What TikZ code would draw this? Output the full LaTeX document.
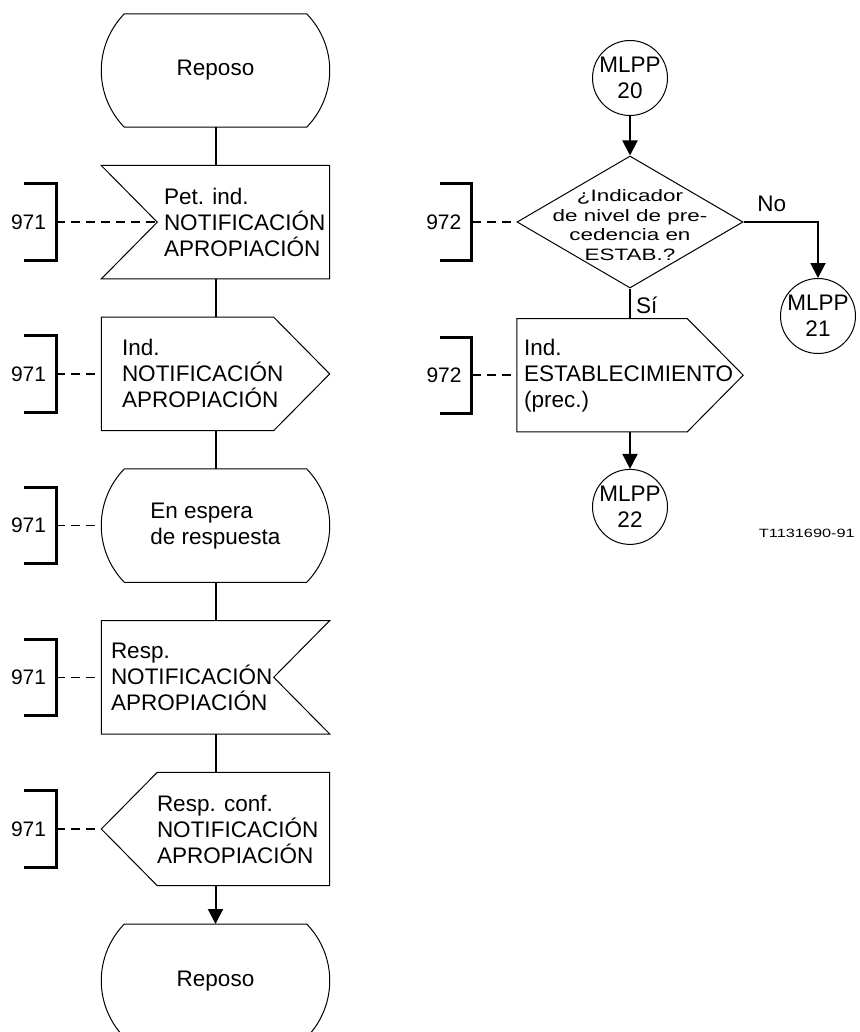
\documentclass[tikz,border=0pt]{standalone}
\usepackage{fontspec}
\setmainfont{Liberation Sans}
\newfontfamily\squeezed{Liberation Sans}[FakeStretch=1.36]
\usetikzlibrary{positioning, shapes.geometric, arrows.meta}

\begin{document}
\begin{tikzpicture}[
		x=1pt, y=1pt,
		>={Triangle[length=15pt, width=15pt]},
		txt/.style={font=\fontsize{22.5pt}{26pt}\selectfont, align=left, inner sep=0pt},
		outline/.style={line width=1pt, line join=miter},
		flow/.style={line width=2pt},
		remline/.style={line width=1.5pt, dash pattern=on 9pt off 6pt},
		sdlbox/.style={minimum width=228pt, minimum height=113pt, inner sep=0pt},
		statebox/.style={sdlbox,
			append after command={\pgfextra{
				\draw[outline] ([xshift=23pt]\tikzlastnode.north west) -- ([xshift=-23pt]\tikzlastnode.north east)
				to[bend left=44] ([xshift=-23pt]\tikzlastnode.south east) -- ([xshift=23pt]\tikzlastnode.south west)
				to[bend left=44] ([xshift=23pt]\tikzlastnode.north west) -- cycle;}}},
		inbox/.style={sdlbox,
			append after command={\pgfextra{
				\draw[outline] (\tikzlastnode.north west) -- (\tikzlastnode.north east) -- (\tikzlastnode.south east)
				-- (\tikzlastnode.south west) -- ([xshift=56pt]\tikzlastnode.west) -- cycle;}}},
		inboxr/.style={sdlbox,
			append after command={\pgfextra{
				\draw[outline] (\tikzlastnode.north west) -- (\tikzlastnode.north east) -- ([xshift=-56pt]\tikzlastnode.east)
				-- (\tikzlastnode.south east) -- (\tikzlastnode.south west) -- cycle;}}},
		outbox/.style={sdlbox,
			append after command={\pgfextra{
				\draw[outline] (\tikzlastnode.north west) -- ([xshift=-56pt]\tikzlastnode.north east) -- (\tikzlastnode.east)
				-- ([xshift=-56pt]\tikzlastnode.south east) -- (\tikzlastnode.south west) -- cycle;}}},
		outboxl/.style={sdlbox,
			append after command={\pgfextra{
				\draw[outline] ([xshift=56pt]\tikzlastnode.north west) -- (\tikzlastnode.north east) -- (\tikzlastnode.south east)
				-- ([xshift=56pt]\tikzlastnode.south west) -- (\tikzlastnode.west) -- cycle;}}},
		decision/.style={diamond, draw, outline, minimum width=226pt, minimum height=132pt, inner sep=0pt},
		conn/.style={circle, draw, outline, minimum size=75pt, inner sep=0pt},
		remark/.style={txt, font=\fontsize{21pt}{24pt}\selectfont, minimum height=76pt, inner xsep=10pt,
			append after command={\pgfextra{
				\draw[line width=3pt, line join=miter] ([xshift=-32pt]\tikzlastnode.north east) -- (\tikzlastnode.north east)
				-- (\tikzlastnode.south east) -- ([xshift=-32pt]\tikzlastnode.south east);}}},
		]
		\useasboundingbox (0,0) rectangle (859,-1032);
		
		% Left column: notification sequence
		\node[statebox, label={[txt]center:Reposo}] (st1) at (215.5,-70.5) {};
		\node[inbox, below=38.3pt of st1, label={[txt, anchor=west, xshift=62.5pt]west:{Pet. ind.\\NOTIFICACIÓN\\APROPIACIÓN}}] (inp1) {};
		\node[outbox, below=38.3pt of inp1, label={[txt, anchor=west, xshift=20.5pt]west:{Ind.\\NOTIFICACIÓN\\APROPIACIÓN}}] (out1) {};
		\node[statebox, below=38.3pt of out1, label={[txt]center:{En espera\\de respuesta}}] (st2) {};
		\node[inboxr, below=38.3pt of st2, label={[txt, anchor=west, xshift=9.5pt]west:{Resp.\\NOTIFICACIÓN\\APROPIACIÓN}}] (inp2) {};
		\node[outboxl, below=38.3pt of inp2, label={[txt, anchor=west, xshift=55.5pt]west:{Resp. conf.\\NOTIFICACIÓN\\APROPIACIÓN}}] (out2) {};
		\node[statebox, below=38.3pt of out2, label={[txt]center:Reposo}] (st3) {};
		
		% Remarks on the left
		\node[remark, left=45pt of inp1] (n1) {971};
		\node[remark, left=45pt of out1] (n2) {971};
		\node[remark, left=45pt of st2] (n3) {971};
		\node[remark, left=45pt of inp2] (n4) {971};
		\node[remark, left=45pt of out2] (n5) {971};
		
		% Right column: precedence check
		\node[conn, label={[txt, align=center]center:{MLPP\\20}}] (c20) at (630,-78) {};
		\node[decision, below=39.5pt of c20, label={[txt, align=center, yshift=-3pt, font=\squeezed\fontsize{16.5pt}{19.5pt}\selectfont]center:{¿Indicador\\de nivel de pre-\\cedencia en\\ESTAB.?}}] (dec) {};
		\node[outbox, minimum width=226pt, below=30pt of dec, label={[txt, anchor=west, xshift=7pt]west:{Ind.\\ESTABLECIMIENTO\\(prec.)}}] (out3) {};
		\node[conn, below=37pt of out3, label={[txt, align=center]center:{MLPP\\22}}] (c22) {};
		\node[conn, label={[txt, align=center]center:{MLPP\\21}}] (c21) at (818,-316) {};
		
		\node[remark, left=45pt of dec] (n6) {972};
		\node[remark, left=45pt of out3] (n7) {972};
		
		\node[txt, font=\squeezed\fontsize{12pt}{14pt}\selectfont, anchor=base east] (tag) at (855,-537) {T1131690-91};
		
		% Flow lines
		\draw[flow] (st1) -- (inp1);
		\draw[flow] (inp1) -- (out1);
		\draw[flow] (out1) -- (st2);
		\draw[flow] (st2) -- (inp2);
		\draw[flow] (inp2) -- (out2);
		\draw[flow, ->] (out2) -- (st3);
		
		\draw[flow, ->] (c20) -- (dec);
		\draw[flow] (dec) -- node[txt, pos=0.55, right=5pt]{Sí} (out3);
		\draw[flow, ->] (dec.east) -| node[txt, pos=0.19, above=9pt]{No} (c21);
		\draw[flow, ->] (out3) -- (c22);
		
		% Remark links
		\draw[remline] (n1.east) -- ([xshift=56pt]inp1.west);
		\draw[remline] (n2.east) -- (out1.west);
		\draw[remline] (n3.east) -- (st2.west);
		\draw[remline] (n4.east) -- (inp2.west);
		\draw[remline] (n5.east) -- (out2.west);
		\draw[remline] (n6.east) -- (dec.west);
		\draw[remline] (n7.east) -- (out3.west);
		
	\end{tikzpicture}
\end{document}
